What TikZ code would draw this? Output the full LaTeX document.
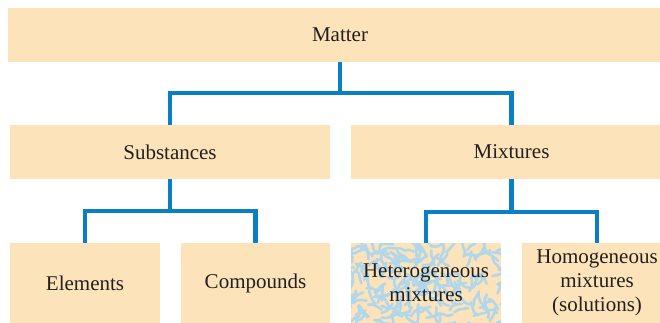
\documentclass[tikz,border=0pt]{standalone}
\usepackage{fontspec}
\setmainfont{Liberation Serif}
\begin{document}
\begin{tikzpicture}[x=1pt,y=-1pt,
  box/.style={fill=peach, draw=none, inner sep=0pt, text=txt,
    font=\fontsize{21}{24}\selectfont, align=center},
  conn/.style={draw=linkblue, line width=4.5pt},
  pat/.style={draw=patblue, line width=2.6pt, line cap=round, line join=round}]
\definecolor{peach}{HTML}{FDE3BA}
\definecolor{txt}{HTML}{231F20}
\definecolor{linkblue}{HTML}{0A7FC4}
\definecolor{patblue}{HTML}{B2D6EA}
\pgfmathsetseed{11}
\useasboundingbox (0,0) rectangle (660,322);
\clip (0,0) rectangle (660,322);
% mottled background of the heterogeneous box
\fill[peach] (351,243) rectangle (501,323);
\begin{scope}
  \clip (351,243) rectangle (501,323);
  \foreach \i in {1,...,200}{
    \pgfmathsetmacro\xx{346+160*rnd}
    \pgfmathsetmacro\yy{238+90*rnd}
    \pgfmathsetmacro\aa{360*rnd}
    \pgfmathsetmacro\ab{\aa+100*rnd-50}
    \pgfmathsetmacro\ac{\ab+100*rnd-50}
    \draw[pat] (\xx,\yy) -- ++(\aa:5) -- ++(\ab:5) -- ++(\ac:5);
  }
\end{scope}
% top
\node[box, minimum width=664pt, minimum height=54pt] (m) at (340,35) {Matter};
% second row
\node[box, minimum width=320pt, minimum height=54pt] (sub) at (170,152) {Substances};
\node[box, minimum width=321pt, minimum height=54pt] (mix) at (511.5,152) {Mixtures};
% third row
\node[box, minimum width=150pt, minimum height=80pt] (el) at (85,283) {Elements};
\node[box, minimum width=149pt, minimum height=80pt] (co) at (255.5,283) {Compounds};
\node[box, fill=none, minimum width=150pt, minimum height=80pt] (het) at (426,283) {Heterogeneous\\mixtures};
\node[box, minimum width=150pt, minimum height=80pt] (hom) at (597,283) {Homogeneous\\mixtures\\(solutions)};
% connectors
\draw[conn] (m.south) -- ++(0,31) -| (sub.north);
\draw[conn] (m.south) -- ++(0,31) -| (mix.north);
\draw[conn] (sub.south) -- ++(0,32) -| (el.north);
\draw[conn] (sub.south) -- ++(0,32) -| (co.north);
\draw[conn] (mix.south) -- ++(0,33) -| (het.north);
\draw[conn] (mix.south) -- ++(0,33) -| (hom.north);
\end{tikzpicture}
\end{document}
